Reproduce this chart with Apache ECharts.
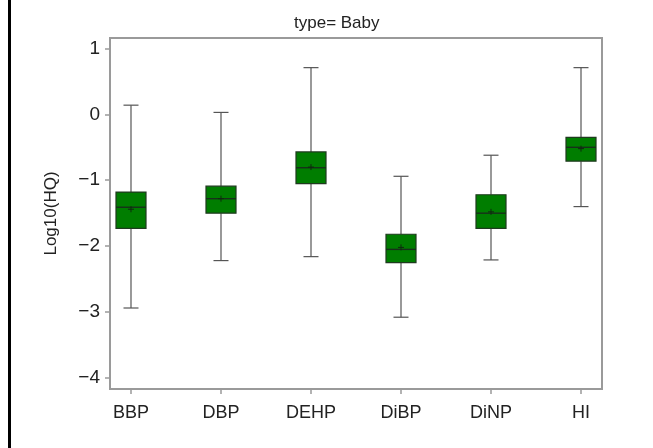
<!DOCTYPE html>
<html>
<head>
<meta charset="utf-8">
<script src="https://cdn.jsdelivr.net/npm/echarts@6/dist/echarts.min.js"></script>
<style>
  html, body { margin: 0; padding: 0; background: #fff; }
  #chart { width: 653px; height: 448px; }
</style>
</head>
<body>
<div id="chart"></div>
<script>
  // box plot data (log10 HQ)
  var categories = ['BBP', 'DBP', 'DEHP', 'DiBP', 'DiNP', 'HI']
  var whiskerMax = [0.14, 0.03, 0.71, -0.94, -0.62, 0.71]
  var q3 = [-1.18, -1.09, -0.57, -1.82, -1.22, -0.35]
  var median = [-1.41, -1.28, -0.81, -2.05, -1.50, -0.50]
  var mean = [-1.44, -1.28, -0.80, -2.02, -1.48, -0.52]
  var q1 = [-1.73, -1.50, -1.05, -2.25, -1.73, -0.71]
  var whiskerMin = [-2.94, -2.22, -2.16, -3.08, -2.21, -1.40]
  var yTicks = [1, 0, -1, -2, -3, -4]
  var yTickLabels = ['1', '0', '\u22121', '\u22122', '\u22123', '\u22124']

  var xPos = categories.map(function (c, i) { return i + 1 })
  var rows = categories.map(function (c, i) {
    return [xPos[i], whiskerMin[i], q1[i], median[i], q3[i], whiskerMax[i], mean[i]]
  })

  var FONT = 'Liberation Sans, Arial, sans-serif'
  var axisGrey = '#9a9a9a'

  function renderItem (params, api) {
    var x = api.value(0)
    var pMin = api.coord([x, api.value(1)])
    var pQ1 = api.coord([x, api.value(2)])
    var pMed = api.coord([x, api.value(3)])
    var pQ3 = api.coord([x, api.value(4)])
    var pMax = api.coord([x, api.value(5)])
    var pMean = api.coord([x, api.value(6)])
    var cx = pMed[0]
    var boxHalf = 15
    var capHalf = 7.5
    var whisker = { stroke: '#555', lineWidth: 1.2 }
    return {
      type: 'group',
      children: [
        { type: 'line', shape: { x1: cx, y1: pMax[1], x2: cx, y2: pQ3[1] }, style: whisker },
        { type: 'line', shape: { x1: cx, y1: pQ1[1], x2: cx, y2: pMin[1] }, style: whisker },
        { type: 'line', shape: { x1: cx - capHalf, y1: pMax[1], x2: cx + capHalf, y2: pMax[1] }, style: whisker },
        { type: 'line', shape: { x1: cx - capHalf, y1: pMin[1], x2: cx + capHalf, y2: pMin[1] }, style: whisker },
        {
          type: 'rect',
          shape: { x: cx - boxHalf, y: pQ3[1], width: boxHalf * 2, height: pQ1[1] - pQ3[1] },
          style: { fill: '#007d00', stroke: '#1f3a1f', lineWidth: 1.2 }
        },
        { type: 'line', shape: { x1: cx - boxHalf, y1: pMed[1], x2: cx + boxHalf, y2: pMed[1] }, style: { stroke: '#17301a', lineWidth: 1.4 } },
        { type: 'line', shape: { x1: cx - 3, y1: pMean[1], x2: cx + 3, y2: pMean[1] }, style: { stroke: '#0f2a0f', lineWidth: 1 } },
        { type: 'line', shape: { x1: cx, y1: pMean[1] - 3, x2: cx, y2: pMean[1] + 3 }, style: { stroke: '#0f2a0f', lineWidth: 1 } }
      ]
    }
  }

  var chart = echarts.init(document.getElementById('chart'))
  var option = {
    backgroundColor: '#fff',
    animation: false,
    title: {
      text: 'type= Baby',
      left: 289,
      top: 10,
      textStyle: { fontFamily: FONT, fontSize: 17, fontWeight: 'normal', color: '#222' }
    },
    graphic: [
      // black border at the left edge of the picture
      { type: 'rect', left: 8, top: 0, shape: { width: 3, height: 448 }, style: { fill: '#000' } }
    ],
    grid: {
      left: 110,
      top: 38,
      width: 492,
      height: 351,
      show: true,
      borderColor: axisGrey,
      borderWidth: 2
    },
    xAxis: {
      type: 'value',
      min: 0.7667,
      max: 6.2333,
      splitLine: { show: false },
      axisLine: { show: false, onZero: false },
      axisTick: {
        show: true,
        customValues: xPos,
        length: 5,
        lineStyle: { color: axisGrey, width: 1.5 }
      },
      axisLabel: {
        customValues: xPos,
        formatter: function (v) { return categories[Math.round(v) - 1] },
        fontFamily: FONT,
        fontSize: 18,
        color: '#222',
        margin: 15
      }
    },
    yAxis: {
      type: 'value',
      min: -4.17,
      max: 1.16,
      name: 'Log10(HQ)',
      nameLocation: 'middle',
      nameGap: 50,
      nameTextStyle: { fontFamily: FONT, fontSize: 17, color: '#222' },
      splitLine: { show: false },
      axisLine: { show: false, onZero: false },
      axisTick: {
        show: true,
        customValues: yTicks,
        length: 5,
        lineStyle: { color: axisGrey, width: 1.5 }
      },
      axisLabel: {
        customValues: yTicks,
        formatter: function (v) { return yTickLabels[yTicks.indexOf(Math.round(v))] },
        fontFamily: FONT,
        fontSize: 19,
        color: '#222',
        margin: 10
      }
    },
    series: [
      {
        type: 'custom',
        renderItem: renderItem,
        encode: { x: 0, y: [1, 2, 3, 4, 5, 6] },
        data: rows
      }
    ]
  }
  chart.setOption(option)
</script>
</body>
</html>
